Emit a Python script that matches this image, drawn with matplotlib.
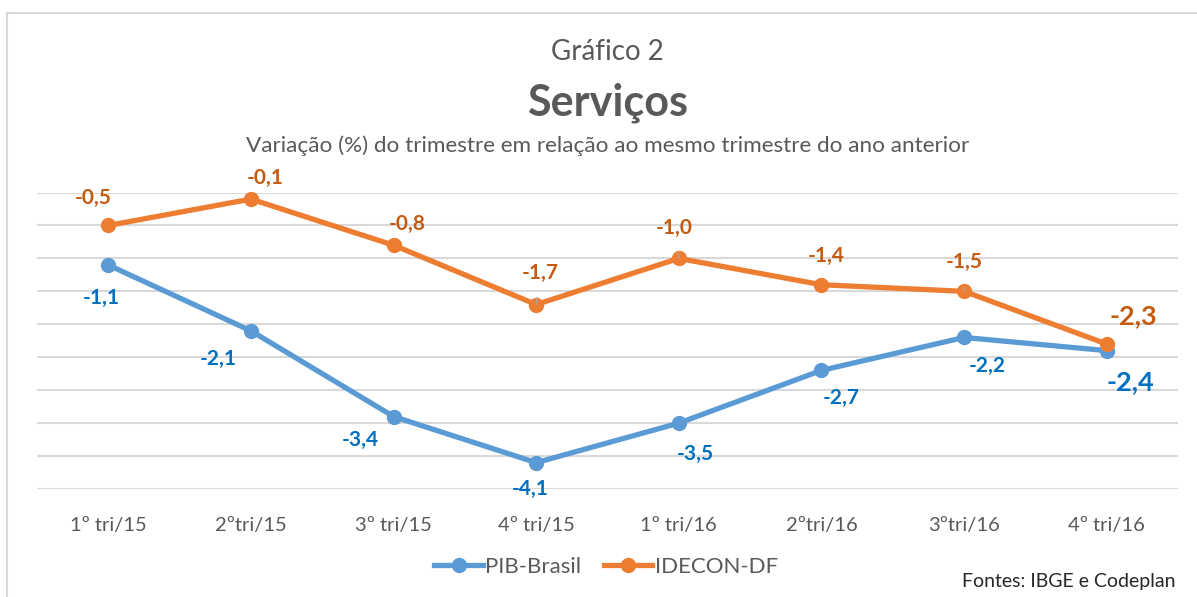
import matplotlib
matplotlib.use("Agg")
import matplotlib.pyplot as plt
from matplotlib.patches import Rectangle
from matplotlib.lines import Line2D

categories = ["1º tri/15", "2ºtri/15", "3º tri/15", "4º tri/15",
              "1º tri/16", "2ºtri/16", "3ºtri/16", "4º tri/16"]
pib_brasil = [-1.1, -2.1, -3.4, -4.1, -3.5, -2.7, -2.2, -2.4]
idecon_df = [-0.5, -0.1, -0.8, -1.7, -1.0, -1.4, -1.5, -2.3]

# label offsets (pixels) relative to points
pib_off = [(-7, -33), (-33, -28), (-33, -23), (-6, -26), (17, -31), (20, -28), (23, -29), (24, -32)]
ide_off = [(-15, 27), (14, 21), (14, 21), (4, 32), (-5, 30), (5, 29), (0, 29), (27, 28)]
pib_lead = [True, False, False, False, False, False, False, False]
ide_lead = [False, False, False, True, True, False, True, False]

W, H = 1197, 597
fig = plt.figure(figsize=(W / 100, H / 100), dpi=100)
plt.rcParams['font.family'] = ['Lato', 'DejaVu Sans']

# outer frame
fig.patches.append(Rectangle((7 / W, -0.1), 1.2, 1 - 13 / H + 0.1, transform=fig.transFigure,
                             fill=False, edgecolor="#D9D9D9", linewidth=1.5))

ax = fig.add_axes([37 / W, 1 - 489 / H, (1178 - 37) / W, (489 - 192.5) / H])
ax.set_xlim(-0.5, len(categories) - 0.5)
ax.set_ylim(-4.5, 0)
ax.set_yticks([-4.5 + 0.5 * i for i in range(10)])
ax.yaxis.grid(True, color="#D9D9D9", linewidth=1.5)
ax.set_axisbelow(True)
ax.tick_params(axis="y", left=False, labelleft=False)
ax.tick_params(axis="x", bottom=False, pad=17, labelsize=14.5, labelcolor="#595959")
for s in ax.spines.values():
    s.set_visible(False)
ax.set_xticks(range(len(categories)))
ax.set_xticklabels(categories)

x = list(range(len(categories)))
blue, orange = "#5B9BD5", "#ED7D31"
blue_t, orange_t = "#0070C0", "#C55A11"
ax.plot(x, pib_brasil, color=blue, lw=3.8, marker="o", ms=10, clip_on=False, zorder=3)
ax.plot(x, idecon_df, color=orange, lw=3.8, marker="o", ms=10, clip_on=False, zorder=4)


def fmt(v):
    return f"{v:.1f}".replace(".", ",")


def label(vals, offs, leads, col):
    for i, v in enumerate(vals):
        last = i == len(vals) - 1
        ap = None
        if leads[i]:
            ap = dict(arrowstyle="-", color="#A6A6A6", lw=1, shrinkA=9, shrinkB=5)
        ax.annotate(fmt(v), (i, v), xytext=offs[i], textcoords="offset pixels",
                    ha="center", va="center", color=col, fontweight="bold",
                    fontsize=19.5 if last else 15, arrowprops=ap, zorder=5,
                    annotation_clip=False)


label(pib_brasil, pib_off, pib_lead, blue_t)
label(idecon_df, ide_off, ide_lead, orange_t)

cx = (37 + 1178) / 2 / W
fig.text(cx, 1 - 52 / H, "Gráfico 2", ha="center", va="center", fontsize=20, color="#595959")
fig.text(cx, 1 - 103 / H, "Serviços", ha="center", va="center", fontsize=31,
         fontweight="bold", color="#595959")
fig.text(cx, 1 - 146 / H, "Variação (%) do trimestre em relação ao mesmo trimestre do ano anterior",
         ha="center", va="center", fontsize=16.2, color="#595959")

handles = [Line2D([0], [0], color=blue, lw=3.8, marker="o", ms=10),
           Line2D([0], [0], color=orange, lw=3.8, marker="o", ms=10)]
fig.legend(handles, ["PIB-Brasil", "IDECON-DF"], loc="center", bbox_to_anchor=(606 / W, 1 - 567 / H),
           ncol=2, frameon=False, fontsize=16, handlelength=2.2, handletextpad=0.1,
           columnspacing=1.0, labelcolor="#595959")
fig.text(1175 / W, 1 - 582 / H, "Fontes: IBGE e Codeplan", ha="right", va="center",
         fontsize=14, color="#262626")

fig.savefig("out.png", dpi=100)
